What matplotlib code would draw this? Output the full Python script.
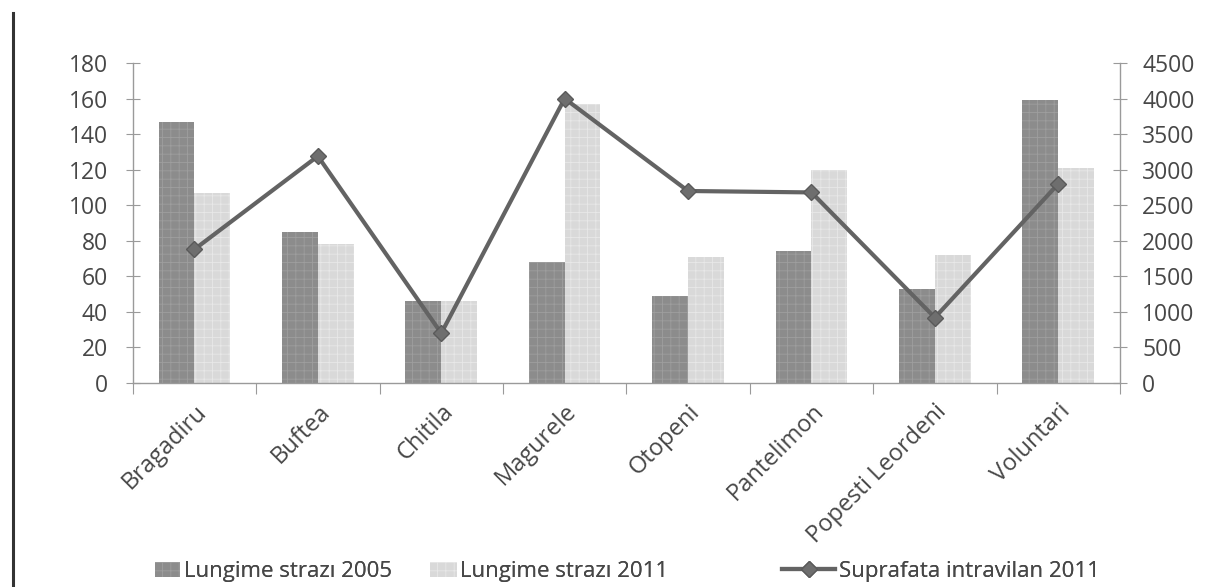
import matplotlib
matplotlib.use("Agg")
import matplotlib.pyplot as plt
import numpy as np
from matplotlib.lines import Line2D

# data
localitati = ["Bragadiru", "Buftea", "Chitila", "Magurele", "Otopeni",
              "Pantelimon", "Popesti Leordeni", "Voluntari"]
strazi_2005 = [147, 85, 46, 68, 49, 74, 53, 159]
strazi_2011 = [107, 78, 46, 157, 71, 120, 72, 121]
intravilan_2011 = [1880, 3190, 700, 4000, 2700, 2680, 920, 2800]

left_ticks = [0, 20, 40, 60, 80, 100, 120, 140, 160, 180]
right_ticks = [0, 500, 1000, 1500, 2000, 2500, 3000, 3500, 4000, 4500]

plt.rcParams['font.family'] = ['Open Sans', 'DejaVu Sans']
plt.rcParams['hatch.linewidth'] = 0.6

txt = "#474747"
spine = "#9a9a9a"

fig = plt.figure(figsize=(12.18, 5.87), dpi=100)
ax = fig.add_axes([0.109, 0.3475, 0.8105, 0.5452])
ax2 = ax.twinx()

x = np.arange(len(localitati))
w = 0.29
ax.bar(x - w / 2, strazi_2005, w, color="#8c8c8c", edgecolor="#9e9e9e",
       linewidth=0, hatch="++", label="Lungime strazı 2005", zorder=2)
ax.bar(x + w / 2, strazi_2011, w, color="#d9d9d9", edgecolor="#e8e8e8",
       linewidth=0, hatch="++", label="Lungime strazı 2011", zorder=2)
ax2.plot(x, intravilan_2011, color="#636363", lw=3, marker="D", ms=8,
         markerfacecolor="#6e6e6e", markeredgecolor="#5a5a5a",
         label="Suprafata intravilan 2011", zorder=3)

ax.set_xlim(-0.5, len(localitati) - 0.5)
ax.set_ylim(0, 180)
ax2.set_ylim(0, 4500)
ax.set_yticks(left_ticks)
ax2.set_yticks(right_ticks)

# category ticks sit between groups, labels at group centres
ax.set_xticks(np.arange(len(localitati) + 1) - 0.5)
ax.set_xticklabels([])
ax.set_xticks(x, minor=True)
ax.set_xticklabels(localitati, minor=True, rotation=45, ha="right",
                   rotation_mode="anchor", fontsize=17, color=txt)
ax.tick_params(axis="x", which="minor", length=0, pad=12)
ax.tick_params(axis="x", which="major", length=8, color=spine, direction="out")

for a in (ax, ax2):
    a.spines["top"].set_visible(False)
    for s in ("left", "right", "bottom"):
        a.spines[s].set_color(spine)
        a.spines[s].set_linewidth(1)
ax.spines["right"].set_visible(False)
ax2.spines["left"].set_visible(False)
ax2.spines["bottom"].set_visible(False)

ax.tick_params(axis="y", direction="inout", length=10, color=spine,
               labelsize=16.5, labelcolor=txt, pad=13)
ax2.tick_params(axis="y", direction="inout", length=10, color=spine,
                labelsize=16.5, labelcolor=txt, pad=11)
ax.set_zorder(ax2.get_zorder() - 1)
ax.patch.set_visible(False)
ax2.patch.set_visible(False)

# frame line on the left edge of the page
fig.add_artist(Line2D([0.011, 0.011], [0.0, 0.978], color="#333333", lw=2.2,
                      transform=fig.transFigure))

# legend entries laid out one by one along the bottom
h1, l1 = ax.get_legend_handles_labels()
h2, l2 = ax2.get_legend_handles_labels()
handles = h1 + h2
labels = l1 + l2
starts = [0.127, 0.353, 0.642]
lengths = [1.15, 1.2, 2.4]
for h, l, x0, hl in zip(handles, labels, starts, lengths):
    leg = fig.legend([h], [l], loc="center left", bbox_to_anchor=(x0, 0.026),
                     frameon=False, fontsize=16, labelcolor=txt, borderpad=0,
                     borderaxespad=0, handlelength=hl, handletextpad=0.15)
    fig.add_artist(leg)

fig.savefig("out.png", dpi=100)
